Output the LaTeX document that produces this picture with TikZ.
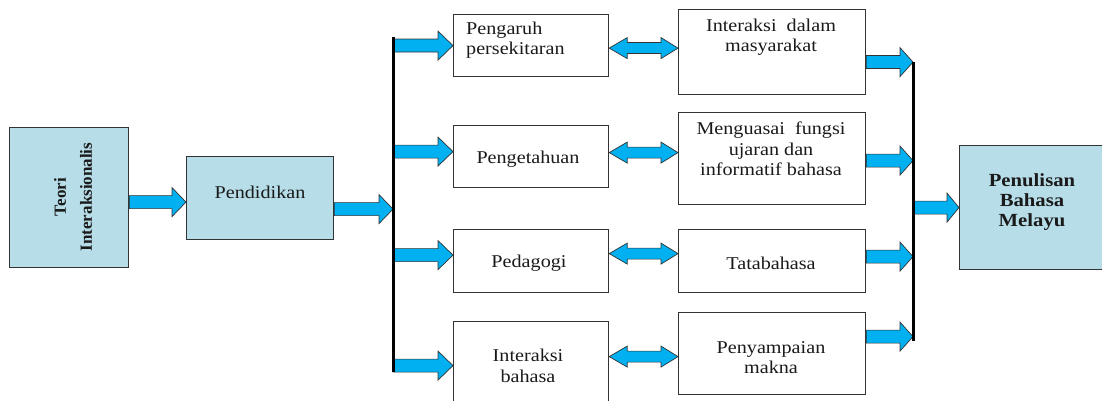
\documentclass[tikz,border=0pt]{standalone}
\usepackage{fontspec}
\setmainfont{Liberation Serif}[FakeStretch=1.12]
\newfontfamily\plainserif{Liberation Serif}
\usetikzlibrary{calc}
\definecolor{boxblue}{HTML}{B7DDE8}
\definecolor{arrblue}{HTML}{00B0F0}
\definecolor{edgegray}{HTML}{333333}
\definecolor{txt}{HTML}{1A1A1A}
\tikzset{
  box/.style={draw=edgegray, line width=1.2pt, anchor=north west, inner sep=0pt},
  bluebox/.style={box, fill=boxblue},
  lbl/.style={text=txt, inner sep=0pt, align=center, font=\fontsize{18}{20.5}\selectfont},
  blk/.style={fill=arrblue, draw=edgegray, line width=0.7pt, line join=miter},
  bar/.style={line width=3pt, draw=black}
}
% right block arrow: start point, end point (only its x used), head length
\newcommand\rarr[3]{%
  \path[blk] let \p1=#1, \p2=#2 in
    (\x1,\y1+6.5pt) -- (\x2-#3,\y1+6.5pt) -- (\x2-#3,\y1+14.5pt) -- (\x2,\y1)
    -- (\x2-#3,\y1-14.5pt) -- (\x2-#3,\y1-6.5pt) -- (\x1,\y1-6.5pt) -- cycle;}
% double block arrow
\newcommand\darr[2]{%
  \path[blk] let \p1=#1, \p2=#2 in
    (\x1,\y1) -- (\x1+18pt,\y1+10.5pt) -- (\x1+18pt,\y1+5.5pt) -- (\x2-17pt,\y1+5.5pt)
    -- (\x2-17pt,\y1+10.5pt) -- (\x2,\y1) -- (\x2-17pt,\y1-10.5pt) -- (\x2-17pt,\y1-5.5pt)
    -- (\x1+18pt,\y1-5.5pt) -- (\x1+18pt,\y1-10.5pt) -- cycle;}
\begin{document}
\begin{tikzpicture}[x=1pt,y=-1pt]
\useasboundingbox (0,0) rectangle (1102,401);
\clip (0,0) rectangle (1102,401);
\fill[white] (0,0) rectangle (1102,401);

% boxes
\node[bluebox, minimum width=119pt, minimum height=140pt] (teori) at (9,127) {};
\node[bluebox, minimum width=147pt, minimum height=83pt] (pend) at (186,156) {};
\node[box, minimum width=155pt, minimum height=62pt] (L1) at (453,14) {};
\node[box, minimum width=155pt, minimum height=62pt] (L2) at (453,125) {};
\node[box, minimum width=155pt, minimum height=63pt] (L3) at (453,229) {};
\node[box, minimum width=155pt, minimum height=90pt] (L4) at (453,321) {};
\node[box, minimum width=187pt, minimum height=85pt] (R1) at (678,9) {};
\node[box, minimum width=187pt, minimum height=92pt] (R2) at (678,112) {};
\node[box, minimum width=187pt, minimum height=63pt] (R3) at (678,229) {};
\node[box, minimum width=187pt, minimum height=82pt] (R4) at (678,312) {};
\node[bluebox, minimum width=170pt, minimum height=124pt] (pen) at (959,145) {};

% texts
\node[lbl, rotate=90, font=\plainserif\bfseries\fontsize{17}{26}\selectfont] (tteori) at (73,197) {Teori\\Interaksionalis};
\node[lbl] (tpend) at (260,192) {Pendidikan};
\node[lbl, anchor=west, align=left] (tL1) at (466,40) {Pengaruh\\persekitaran};
\node[lbl] (tL2) at (528,159) {Pengetahuan};
\node[lbl] (tL3) at (529,263) {Pedagogi};
\node[lbl] (tL4) at (528,366) {Interaksi\\bahasa};
\node[lbl] (tR1) at (771,37) {Interaksi\ \ dalam\\masyarakat};
\node[lbl] (tR2) at (771,149) {Menguasai\ \ fungsi\\ujaran dan\\informatif bahasa};
\node[lbl] (tR3) at (771,263) {Tatabahasa};
\node[lbl] (tR4) at (771,357.5) {Penyampaian\\makna};
\node[lbl, font=\bfseries\fontsize{18.5}{20}\selectfont] (tpen) at (1032,202) {Penulisan\\Bahasa\\Melayu};

% bars
\coordinate (lbarT) at (393,37);
\coordinate (lbarB) at (393,372);
\coordinate (rbarT) at (913,62);
\coordinate (rbarB) at (913,341);

% arrows
\rarr{([yshift=-4.5pt]teori.east)}{(pend.west)}{14pt}
\rarr{([yshift=-11pt]pend.east)}{(lbarT)}{14pt}
\rarr{(L1.west -| lbarT)}{(L1.west)}{15pt}
\rarr{([yshift=5pt]L2.west -| lbarT)}{(L2.west)}{15pt}
\rarr{([yshift=6pt]L3.west -| lbarT)}{(L3.west)}{15pt}
\rarr{([yshift=1pt]L4.west -| lbarT)}{(L4.west)}{15pt}

\darr{([yshift=-2.5pt]L1.east)}{(R1.west)}
\darr{([yshift=4pt]L2.east)}{(R2.west)}
\darr{([yshift=7.5pt]L3.east)}{(R3.west)}
\darr{([yshift=10pt]L4.east)}{(R4.west)}

\rarr{([yshift=-10pt]R1.east)}{(rbarT)}{13pt}
\rarr{([yshift=-2pt]R2.east)}{(rbarT)}{13pt}
\rarr{([yshift=4.5pt]R3.east)}{(rbarT)}{13pt}
\rarr{([yshift=17pt]R4.east)}{(rbarT)}{13pt}
\rarr{(pen.west -| rbarT)}{(pen.west)}{12pt}

\draw[bar] (lbarT) -- (lbarB);
\draw[bar] (rbarT) -- (rbarB);
\end{tikzpicture}
\end{document}
